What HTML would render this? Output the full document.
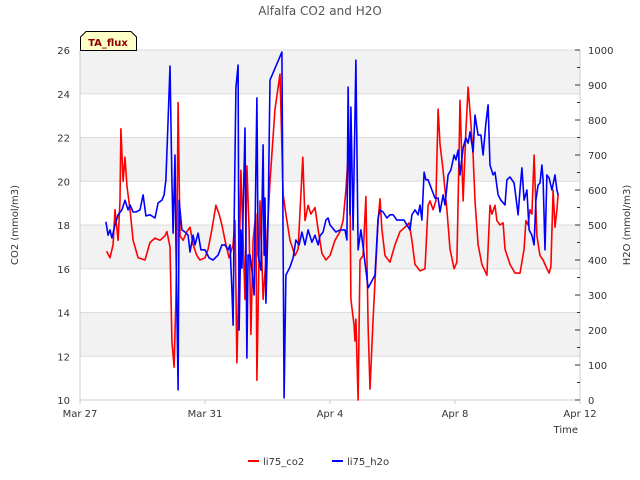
<!DOCTYPE html>
<html><head><meta charset="utf-8"><style>
body{margin:0;background:#fff;}
svg{display:block;font-family:"DejaVu Sans","Liberation Sans",sans-serif;}
</style></head><body>
<svg id="chart" width="640" height="480" viewBox="0 0 640 480" xmlns="http://www.w3.org/2000/svg">
<text x="320" y="15" text-anchor="middle" font-size="12" fill="#555">Alfalfa CO2 and H2O</text>
<g id="bands"></g><g id="grid"></g>
<g id="axes"></g>
<g id="series"></g>
<g>
<path d="M80.5,37 L86,31.5 L131,31.5 L136.5,37 L136.5,50.5 L80.5,50.5 Z" fill="#ffffc8" stroke="#000" stroke-width="1"/>
<text x="108" y="46" text-anchor="middle" font-size="10" font-weight="bold" fill="#8b0000">TA_flux</text>
</g>
<text transform="translate(18,225) rotate(-90)" text-anchor="middle" font-size="10" fill="#333">CO2 (mmol/m3)</text>
<text transform="translate(630,225) rotate(-90)" text-anchor="middle" font-size="10" fill="#333">H2O (mmol/m3)</text>
<text x="578" y="433" text-anchor="end" font-size="10" fill="#333">Time</text>
<g>
<g><line x1="248" y1="461" x2="259" y2="461" stroke="#f00" stroke-width="2"/><text x="263" y="465" font-size="10" fill="#333">li75_co2</text></g>
<g><line x1="332" y1="461" x2="343" y2="461" stroke="#00f" stroke-width="2"/><text x="347" y="465" font-size="10" fill="#333">li75_h2o</text></g>
</g>
</svg>
<script>
const xTickLabels=["Mar 27","Mar 31","Apr 4","Apr 8","Apr 12"];
const xTickDays=[0,4,8,12,16];
const leftTicks=[10,12,14,16,18,20,22,24,26];
const rightTicks=[0,100,200,300,400,500,600,700,800,900,1000];
const co2Days=[0.85,0.96,1.06,1.12,1.22,1.28,1.31,1.38,1.44,1.50,1.60,1.70,1.86,2.08,2.24,2.40,2.56,2.72,2.78,2.88,2.94,3.01,3.07,3.10,3.14,3.20,3.30,3.42,3.52,3.62,3.74,3.84,4.00,4.10,4.22,4.35,4.45,4.54,4.67,4.77,4.90,4.96,5.02,5.09,5.15,5.22,5.28,5.34,5.41,5.47,5.54,5.63,5.66,5.76,5.86,5.95,6.08,6.24,6.40,6.50,6.59,6.72,6.88,6.98,7.13,7.20,7.30,7.39,7.52,7.62,7.74,7.87,8.00,8.16,8.32,8.42,8.51,8.58,8.64,8.67,8.77,8.80,8.83,8.90,8.96,9.06,9.15,9.22,9.28,9.38,9.54,9.60,9.66,9.76,9.92,10.08,10.24,10.40,10.53,10.62,10.72,10.88,11.04,11.14,11.20,11.30,11.39,11.46,11.52,11.62,11.74,11.84,11.97,12.06,12.13,12.16,12.26,12.35,12.42,12.48,12.58,12.64,12.74,12.86,13.02,13.12,13.18,13.28,13.34,13.44,13.54,13.60,13.76,13.92,14.08,14.21,14.27,14.34,14.40,14.46,14.53,14.62,14.72,14.82,14.94,15.01,15.07,15.14,15.20,15.26,15.30];
const co2Values=[16.8,16.5,17.1,18.7,17.3,19.1,22.4,20.0,21.1,19.8,18.7,17.3,16.5,16.4,17.2,17.4,17.3,17.5,17.7,17.0,12.7,11.5,14.6,17.3,23.6,17.5,17.3,17.7,17.9,17.1,16.6,16.4,16.5,16.9,17.8,18.9,18.5,18.0,17.1,16.5,17.1,18.2,11.7,15.9,20.5,17.3,14.6,20.7,17.8,13.0,17.3,18.5,10.9,19.1,14.6,16.4,20.0,23.3,24.9,19.4,18.5,17.3,16.6,16.9,21.1,18.2,18.9,18.5,18.8,17.8,16.7,16.4,16.6,17.3,17.7,18.2,19.6,21.1,19.6,14.6,13.4,12.7,13.7,10.0,16.4,16.6,19.3,13.4,10.5,13.7,18.2,19.2,17.8,16.6,16.3,17.1,17.7,17.9,18.1,17.3,16.2,15.9,16.0,18.9,19.1,18.7,19.1,23.3,21.7,20.5,18.7,16.9,16.0,16.3,21.4,23.7,19.1,22.3,24.3,23.2,21.2,19.1,17.1,16.2,15.7,18.9,18.5,18.9,18.2,18.0,18.1,16.9,16.2,15.8,15.8,16.9,18.2,18.0,18.7,18.5,21.2,17.5,16.6,16.4,16.0,15.8,16.1,19.6,17.9,18.7,19.4];
const h2oDays=[0.83,0.90,0.96,1.02,1.12,1.22,1.34,1.44,1.54,1.60,1.70,1.79,1.92,2.02,2.11,2.24,2.40,2.50,2.62,2.69,2.75,2.82,2.88,2.94,2.98,3.04,3.07,3.14,3.17,3.26,3.36,3.46,3.52,3.62,3.68,3.78,3.87,4.00,4.13,4.26,4.42,4.54,4.64,4.74,4.80,4.86,4.90,4.93,4.99,5.06,5.09,5.15,5.18,5.28,5.34,5.38,5.44,5.50,5.57,5.66,5.70,5.79,5.86,5.89,5.92,5.95,6.02,6.08,6.46,6.53,6.59,6.72,6.82,6.91,7.01,7.10,7.20,7.30,7.42,7.52,7.62,7.68,7.78,7.87,7.94,8.00,8.19,8.32,8.48,8.54,8.58,8.64,8.67,8.74,8.83,8.90,8.99,9.06,9.22,9.44,9.54,9.60,9.70,9.82,9.92,10.02,10.14,10.24,10.37,10.46,10.56,10.62,10.72,10.82,10.88,10.94,11.01,11.07,11.14,11.26,11.36,11.46,11.52,11.62,11.68,11.78,11.87,11.97,12.03,12.10,12.16,12.26,12.35,12.42,12.48,12.58,12.64,12.74,12.83,12.90,12.99,13.06,13.12,13.22,13.28,13.38,13.47,13.60,13.66,13.76,13.82,13.89,13.95,14.02,14.08,14.14,14.21,14.30,14.37,14.46,14.53,14.59,14.66,14.72,14.78,14.82,14.88,14.94,15.01,15.10,15.20,15.26,15.30];
const h2oValues=[509,471,486,463,500,529,543,571,543,557,537,537,543,586,526,529,520,563,571,586,629,800,954,629,477,700,457,29,571,486,480,471,423,471,443,477,429,429,406,400,414,443,443,429,443,314,214,500,891,957,200,486,377,777,120,414,414,371,300,863,414,371,729,414,577,277,514,914,994,6,357,380,406,457,443,480,443,486,451,471,443,469,480,514,520,500,480,486,486,457,894,529,837,486,971,429,486,437,320,357,520,543,537,520,529,529,514,514,514,500,486,529,543,529,557,514,651,629,629,600,577,577,537,586,557,643,657,700,686,714,643,720,749,734,766,709,814,757,757,700,791,843,671,643,651,586,571,557,629,637,629,620,580,529,600,663,571,600,486,471,443,571,614,620,671,629,429,643,634,600,643,600,586];

const L=80,R=580,T=50,B=400,NS="http://www.w3.org/2000/svg";
const xS=d=>L+(d-0)/16*(R-L);
const yL=v=>B-(v-10)/16*(B-T);
const yR=v=>B-v/1000*(B-T);
function mk(tag,attrs,parent){const e=document.createElementNS(NS,tag);for(const k in attrs)e.setAttribute(k,attrs[k]);parent.appendChild(e);return e;}
const bands=document.getElementById('bands'),grid=document.getElementById('grid'),axes=document.getElementById('axes'),series=document.getElementById('series');
mk('rect',{x:L,y:T,width:R-L,height:B-T,fill:'#fff'},bands);
for(let i=0;i<leftTicks.length-1;i++){
  if(i%2===1){const r=mk('rect',{x:L,y:yL(leftTicks[i+1]),width:R-L,height:yL(leftTicks[i])-yL(leftTicks[i+1]),fill:'#f2f2f2'},bands);
  
  }
}
leftTicks.forEach(v=>{
  const y=yL(v);
  const g=mk('line',{x1:L,x2:R,y1:y,y2:y,stroke:'#dcdcdc','stroke-width':1},grid);
  
  
  const t=mk('text',{x:L-10,y:y+4,'text-anchor':'end','font-size':10,fill:'#333'},axes);t.textContent=v;
  
  
});
mk('line',{x1:L,x2:L,y1:T,y2:B,stroke:'#ccc'},axes);
mk('line',{x1:R,x2:R,y1:T,y2:B,stroke:'#ccc'},axes);
mk('line',{x1:L,x2:R,y1:B,y2:B,stroke:'#ccc'},axes);
rightTicks.forEach(v=>{
  const y=yR(v);
  mk('line',{x1:R,x2:R-5,y1:y,y2:y,stroke:'#333'},axes);
  if(v<1000)mk('line',{x1:R,x2:R-3,y1:yR(v+50),y2:yR(v+50),stroke:'#333'},axes);
  const t=mk('text',{x:R+8,y:y+4,'font-size':10,fill:'#333'},axes);t.textContent=v;
  
  
});
xTickDays.forEach((d,i)=>{
  const x=xS(d);
  mk('line',{x1:x,x2:x,y1:B,y2:B+4,stroke:'#ccc'},axes);
  const t=mk('text',{x:x,y:B+17,'text-anchor':'middle','font-size':10,fill:'#333'},axes);t.textContent=xTickLabels[i];
  
  
});
const pc=mk('polyline',{points:co2Days.map((d,i)=>xS(d).toFixed(1)+','+yL(co2Values[i]).toFixed(1)).join(' '),fill:'none',stroke:'#f00','stroke-width':1.6,'stroke-linejoin':'round'},series);


const ph=mk('polyline',{points:h2oDays.map((d,i)=>xS(d).toFixed(1)+','+yR(h2oValues[i]).toFixed(1)).join(' '),fill:'none',stroke:'#00f','stroke-width':1.6,'stroke-linejoin':'round'},series);


</script>
</body></html>
